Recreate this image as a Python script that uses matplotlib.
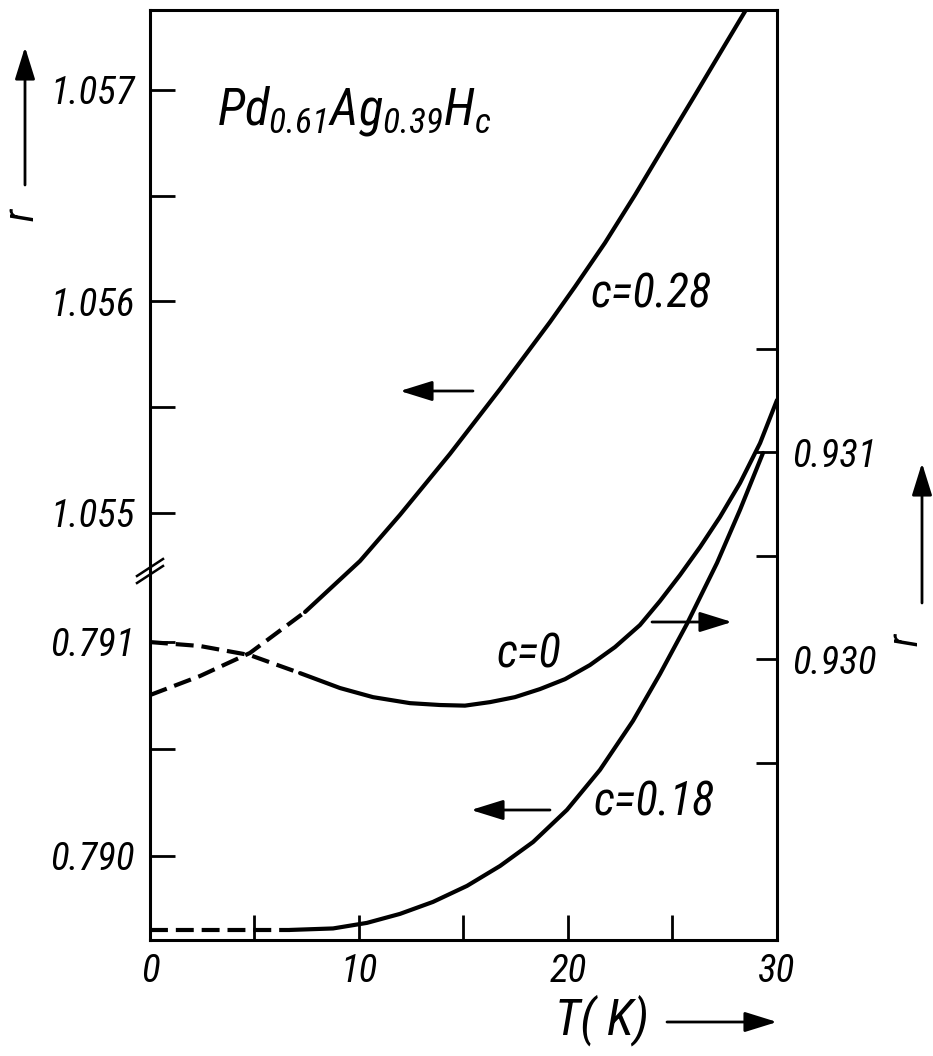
import matplotlib
matplotlib.use("Agg")
import matplotlib.pyplot as plt
from matplotlib import font_manager as fm
from matplotlib.lines import Line2D
from matplotlib.patches import FancyArrowPatch

# ---------------- data ----------------
# c = 0.28 : left (upper) scale
T_c028 = [0.0, 2.39, 4.78, 7.42, 10.05, 11.96, 14.35, 16.75, 19.14, 20.33,
          21.77, 23.21, 24.64, 26.08, 27.51, 28.71]
r_c028 = [1.054139, 1.054229, 1.054338, 1.054532, 1.054773, 1.054991, 1.055279,
          1.055586, 1.055903, 1.056069, 1.056277, 1.056504, 1.056740, 1.056976,
          1.057213, 1.057411]
T_dash_c028 = 7.42

# c = 0 : right scale
T_c0 = [0.0, 2.39, 4.78, 7.18, 9.09, 10.67, 12.44, 13.88, 15.07, 16.27, 17.46,
        18.66, 19.86, 21.05, 22.25, 23.44, 24.40, 25.36, 26.32, 27.27, 28.23,
        29.19, 30.0]
r_c0 = [0.930082, 0.930063, 0.930019, 0.929932, 0.929860, 0.929816, 0.929787,
        0.929778, 0.929775, 0.929792, 0.929816, 0.929855, 0.929903, 0.929971,
        0.930058, 0.930164, 0.930280, 0.930406, 0.930541, 0.930686, 0.930850,
        0.931043, 0.931251]
T_dash_c0 = 7.18

# c = 0.18 : left (lower) scale
T_c018 = [0.0, 6.70, 8.76, 10.38, 11.96, 13.54, 15.17, 16.75, 18.33, 19.95,
          21.53, 23.11, 24.40, 25.69, 27.13, 28.23, 29.33]
r_c018 = [0.789654, 0.789654, 0.789661, 0.789687, 0.789729, 0.789785, 0.789860,
          0.789953, 0.790065, 0.790215, 0.790402, 0.790631, 0.790850, 0.791084,
          0.791369, 0.791617, 0.791883]
T_dash_c018 = 6.70

x_ticks = [0, 5, 10, 15, 20, 25, 30]
x_ticklabels = ['0', '', '10', '', '20', '', '30']
yA_ticks = [1.055, 1.0555, 1.056, 1.0565, 1.057]
yA_ticklabels = ['1.055', '', '1.056', '', '1.057']
yB_ticks = [0.790, 0.7905, 0.791]
yB_ticklabels = ['0.790', '', '0.791']
yC_ticks = [0.9295, 0.930, 0.9305, 0.931, 0.9315]
yC_ticklabels = ['', '0.930', '', '0.931', '']

# ---------------- fonts: prefer a narrow italic sans ----------------
FONT, STRETCH = 'DejaVu Sans', 'normal'
pref = ['Liberation Sans Narrow', 'Roboto Condensed', 'Open Sans Condensed',
        'Noto Sans Condensed', 'DejaVu Sans']
best = None
for f in fm.fontManager.ttflist:
    narrow = ('Narrow' in f.name or 'Condensed' in f.name or
              str(f.stretch) in ('condensed', 'semi-condensed'))
    if narrow and f.style in ('italic', 'oblique') and str(f.weight) in ('400', 'normal', 'regular'):
        rank = pref.index(f.name) if f.name in pref else len(pref)
        if best is None or rank < best[0]:
            best = (rank, f)
if best is not None:
    FONT, STRETCH = best[1].name, str(best[1].stretch)

plt.rcParams['font.family'] = [FONT, 'DejaVu Sans']
plt.rcParams['font.style'] = 'italic'
plt.rcParams['font.stretch'] = STRETCH
spec = FONT + ':italic' + (':stretch=' + STRETCH if STRETCH != 'normal' else '')
plt.rcParams['mathtext.fontset'] = 'custom'
plt.rcParams['mathtext.it'] = spec
plt.rcParams['mathtext.rm'] = spec
plt.rcParams['mathtext.sf'] = spec

W, H = 933, 1056


def px(x, y):
    return (x / W, 1 - y / H)


fig = plt.figure(figsize=(W / 100, H / 100), dpi=100)
renderer = fig.canvas.get_renderer()


def fit(s, target, cap):
    t = fig.text(0, 0, s, fontsize=10)
    w = t.get_window_extent(renderer).width
    t.remove()
    return min(10 * target / w, cap)


FS_TICK = fit('1.057', 84, 31)
FS_LAB = fit('c=0.28', 121, 36)
FS_FORM = fit(r'$Pd_{0.61}Ag_{0.39}H_c$', 280, 38)
FS_TK = fit('T( K)', 102, 36)
FS_R = min(FS_LAB, 30)

L, R, TOP, BOT = 150, 777, 10, 940
rect = [L / W, 1 - BOT / H, (R - L) / W, (BOT - TOP) / H]

axA = fig.add_axes(rect)
axB = fig.add_axes(rect, sharex=axA, label='lower')
axC = axA.twinx()

axA.set_xlim(0, 30)
axA.set_ylim(1.052981, 1.057378)
axB.set_ylim(0.789607, 0.793953)
axC.set_ylim(0.928643, 0.933135)

for s in axA.spines.values():
    s.set_linewidth(2.2)
for s in axC.spines.values():
    s.set_visible(False)
for s in axB.spines.values():
    s.set_visible(False)
axB.set_facecolor('none')
axC.set_facecolor('none')
axB.xaxis.set_visible(False)
axC.xaxis.set_visible(False)

axA.set_xticks(x_ticks)
axA.set_xticklabels(x_ticklabels)
axA.set_yticks(yA_ticks)
axA.set_yticklabels(yA_ticklabels)
axB.set_yticks(yB_ticks)
axB.set_yticklabels(yB_ticklabels)
axC.set_yticks(yC_ticks)
axC.set_yticklabels(yC_ticklabels)

axA.tick_params(axis='x', direction='in', length=18, width=2.0, pad=9, labelsize=FS_TICK,
                top=False, bottom=True)
axA.tick_params(axis='y', direction='in', length=18, width=2.0, pad=11, labelsize=FS_TICK,
                left=True, right=False)
axB.tick_params(axis='y', direction='in', length=18, width=2.0, pad=11, labelsize=FS_TICK,
                left=True, right=False)
axC.tick_params(axis='y', direction='in', length=15, width=2.0, pad=11, labelsize=FS_TICK,
                left=False, right=True)

LW = 3.0
DASH = (4.3, 1.9)


def draw(ax, T, r, tdash):
    n = len([t for t in T if t <= tdash])
    ax.plot(T[:n], r[:n], color='k', lw=LW, linestyle=(0, DASH), dash_capstyle='butt')
    ax.plot(T[n - 1:], r[n - 1:], color='k', lw=LW, solid_capstyle='round',
            solid_joinstyle='round')


draw(axA, T_c028, r_c028, T_dash_c028)
draw(axC, T_c0, r_c0, T_dash_c0)
draw(axB, T_c018, r_c018, T_dash_c018)

# ---------------- texts ----------------
fig.text(*px(217, 124), r'$Pd_{0.61}Ag_{0.39}H_c$', fontsize=FS_FORM, ha='left', va='baseline')
fig.text(*px(591, 295), 'c=0.28', fontsize=FS_LAB, ha='left', va='center')
fig.text(*px(497, 655), 'c=0', fontsize=FS_LAB, ha='left', va='center')
fig.text(*px(594, 803), 'c=0.18', fontsize=FS_LAB, ha='left', va='center')
fig.text(*px(555, 1020), 'T( K)', fontsize=FS_TK, ha='left', va='center')
fig.text(*px(22, 215), 'r', fontsize=FS_R, ha='center', va='center', rotation=90)
fig.text(*px(906, 640), 'r', fontsize=FS_R, ha='center', va='center', rotation=90)


def arrow(p0, p1):
    a = FancyArrowPatch(px(*p0), px(*p1), transform=fig.transFigure,
                        arrowstyle='-|>,head_length=0.9,head_width=0.28',
                        mutation_scale=22, lw=2.0, color='k', shrinkA=0, shrinkB=0)
    fig.add_artist(a)


arrow((25, 185), (25, 47))
arrow((922, 603), (922, 463))
arrow((667, 1022), (777, 1022))
arrow((473, 391), (400, 391))
arrow((652, 622), (732, 622))
arrow((550, 810), (471, 810))

# axis-break mark on the left spine
for dy in (0, 7):
    x0, y0 = px(137, 576 + dy)
    x1, y1 = px(163, 559 + dy)
    fig.add_artist(Line2D([x0, x1], [y0, y1], transform=fig.transFigure, color='k', lw=1.8))

fig.savefig('out.png', dpi=100)
